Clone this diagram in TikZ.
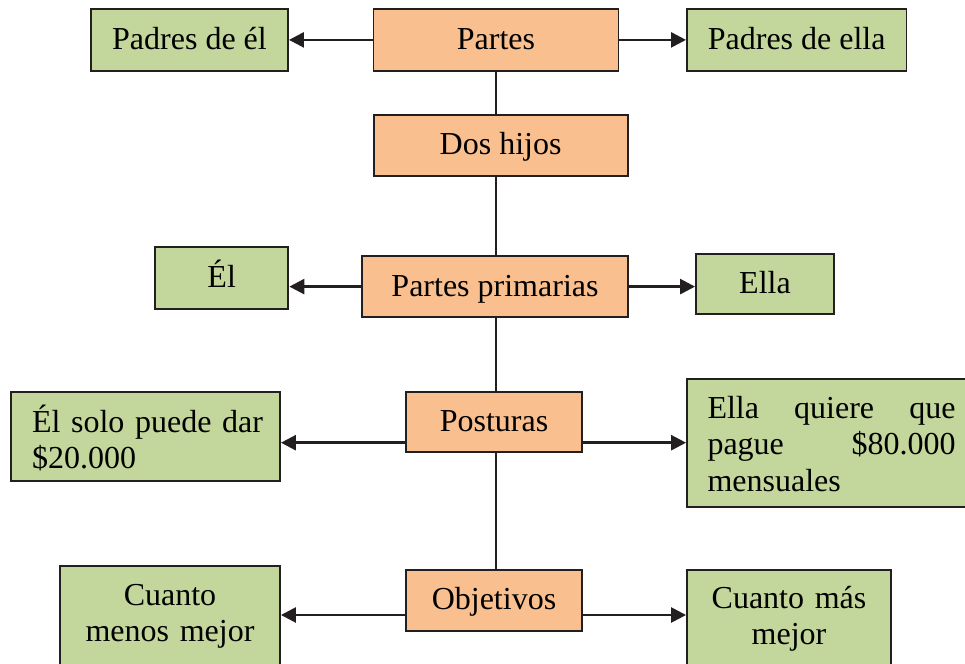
\documentclass[tikz,border=0pt]{standalone}
\usepackage{fontspec}
\setmainfont{Liberation Serif}
\usetikzlibrary{arrows.meta}
\definecolor{gfill}{HTML}{C3D69B}
\definecolor{ofill}{HTML}{F9BF8F}
\definecolor{edge}{HTML}{231F20}
\tikzset{
 box/.style={draw=edge, line width=1.9pt, inner sep=0pt, font=\fontsize{32}{36.5}\selectfont, text height=24pt, text depth=5pt},
 obox/.style={box, fill=ofill},
 gbox/.style={box, fill=gfill},
 arr/.style={line width=2.6pt, draw=edge, -{Triangle[length=15pt,width=15pt]}},
 vline/.style={line width=1.4pt, draw=edge},
}
\begin{document}
\begin{tikzpicture}[x=1pt,y=-1pt]
\useasboundingbox (0,0) rectangle (965,663);
\clip (0,0) rectangle (965,663);
% top row
\node[obox, minimum width=245pt, minimum height=61.7pt] (partes) at (496,39.9) {Partes};
\node[gbox, minimum width=197pt, minimum height=61.7pt] (pel) at (189.5,39.9) {Padres de él};
\node[gbox, minimum width=219.5pt, minimum height=61.7pt] (pella) at (796.7,39.9) {Padres de ella};
% second
\node[obox, minimum width=254pt, minimum height=61pt] (dos) at (500.6,145.5) {Dos hijos};
% third row
\node[obox, minimum width=266pt, minimum height=61.3pt] (pp) at (495,286.6) {Partes primarias};
\node[gbox, minimum width=133.4pt, minimum height=61.7pt] (el) at (221.7,278) {Él};
\node[gbox, minimum width=138pt, minimum height=60.3pt] (ella) at (765,284.2) {Ella};
% fourth row
\node[obox, minimum width=175.5pt, minimum height=60.3pt] (post) at (494,422.2) {Posturas};
\node[gbox, text width=227pt, inner xsep=21pt, align=left, text depth=33pt, minimum height=89pt] (elsolo) at (145.5,436.5) {\mbox{Él solo puede dar}\\\$20.000};
\node[gbox, text width=248pt, inner xsep=20.5pt, align=left, text depth=74pt, minimum height=128pt] (ellaq) at (831.5,443) {Ella\hfill quiere\hfill que\\pague\hfill \$80.000\\mensuales};
% fifth row
\node[obox, minimum width=175.5pt, minimum height=60.7pt] (obj) at (494,600.3) {Objetivos};
\node[gbox, text width=180pt, inner xsep=20pt, align=center, text depth=60pt, minimum height=114.3pt] (cmenos) at (170,623) {Cuanto\\menos mejor};
\node[gbox, text width=170pt, inner xsep=17pt, align=center, text depth=58pt, minimum height=110pt] (cmas) at (789,625) {Cuanto más\\mejor};
% arrows
\draw[arr] (partes.west) -- (partes.west -| pel.east);
\draw[arr] (partes.east) -- (partes.east -| pella.west);
\draw[arr] (pp.west) -- (pp.west -| el.east);
\draw[arr] (pp.east) -- (pp.east -| ella.west);
\coordinate (yp) at (0,442.7);
\draw[arr] (post.west |- yp) -- (elsolo.east |- yp);
\draw[arr] (post.east |- yp) -- (ellaq.west |- yp);
\coordinate (yo) at (0,615);
\draw[arr] (obj.west |- yo) -- (cmenos.east |- yo);
\draw[arr] (obj.east |- yo) -- (cmas.west |- yo);
% vertical connectors
\draw[vline] (partes.south) -- (partes.south |- dos.north);
\draw[vline] (partes.south |- dos.south) -- (partes.south |- pp.north);
\draw[vline] (partes.south |- pp.south) -- (partes.south |- post.north);
\draw[vline] (partes.south |- post.south) -- (partes.south |- obj.north);
\end{tikzpicture}
\end{document}
